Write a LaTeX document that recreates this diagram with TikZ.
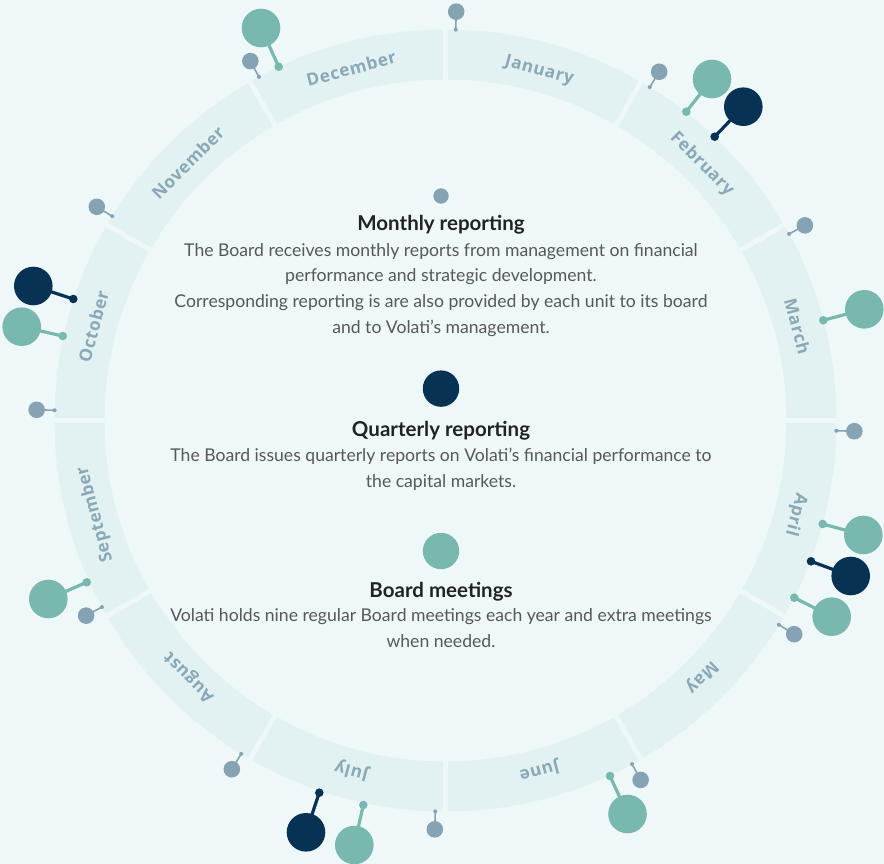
\documentclass[tikz,border=0pt]{standalone}
\usepackage{fontspec}
\setmainfont{Lato}
\newfontfamily\monthfont[LetterSpace=3.5]{Open Sans}
\usetikzlibrary{calc}

\definecolor{bgcol}{HTML}{EFF8F9}
\definecolor{ringcol}{HTML}{E2F1F2}
\definecolor{monthcol}{HTML}{8AA8B8}
\definecolor{graypin}{HTML}{86A3B4}
\definecolor{tealpin}{HTML}{78B8AE}
\definecolor{navypin}{HTML}{083254}
\definecolor{headcol}{HTML}{222222}
\definecolor{bodycol}{HTML}{575757}

% one lollipop: head circle, small foot dot on the ring, stem between them
\newcommand\bigpin[6]{%
  \node[bighead, fill=#2] (#1) at (#3,-#4) {};
  \node[bigdot, fill=#2] (#1d) at (#5,-#6) {};
  \draw[#2, line width=3.2pt] (#1.center) -- (#1d.center);
}

\begin{document}
\begin{tikzpicture}[x=1pt, y=1pt,
  monthlabel/.style={font=\monthfont\bfseries\fontsize{17.2}{17}\selectfont, text=monthcol, inner sep=0pt, anchor=base},
  grayhead/.style={circle, fill=graypin, minimum size=16.6pt, inner sep=0pt},
  graydot/.style={circle, fill=graypin, minimum size=4pt, inner sep=0pt},
  bighead/.style={circle, minimum size=38.6pt, inner sep=0pt},
  bigdot/.style={circle, minimum size=8.6pt, inner sep=0pt},
  legenddot/.style={circle, minimum size=36.4pt, inner sep=0pt},
  heading/.style={font=\bfseries\fontsize{20.5}{24}\selectfont, text=headcol, inner sep=0pt, anchor=base},
  bodytext/.style={font=\fontsize{17.6}{25.6}\selectfont, text=bodycol, inner sep=0pt, align=center, anchor=base},
]
\fill[bgcol] (0,0) rectangle (884,-864);
\useasboundingbox (0,0) rectangle (884,-864);

\coordinate (C) at (445.5,-420.5);

% ring of twelve month segments
\fill[ringcol, even odd rule] (C) circle[radius=391] (C) circle[radius=341];
\foreach \k in {0,...,11}
  \draw[bgcol, line width=5pt] ($(C)+(30*\k:335)$) -- ($(C)+(30*\k:397)$);

% month names, clockwise from the top
\foreach \m [count=\i from 0] in {January,February,March,April,May,June,July,August,September,October,November,December}
  \node[monthlabel, rotate={-15-30*\i}] (m\i) at ($(C)+({75-30*\i}:358)$) {\m};

% monthly reporting pins at the start of each month
\foreach \k in {0,...,11} {
  \node[graydot] (gd\k) at ($(C)+({88.5-30*\k}:391)$) {};
  \node[grayhead] (gh\k) at ($(C)+({88.5-30*\k}:409)$) {};
  \draw[graypin, line width=1.6pt] (gd\k.center) -- (gh\k.center);
}

% board meetings
\bigpin{t1}{tealpin}{261}{28}{278.7}{66.7}
\bigpin{t2}{tealpin}{712}{79}{686.3}{111.7}
\bigpin{t3}{tealpin}{864.3}{309.3}{823.3}{320.3}
\bigpin{t4}{tealpin}{863.3}{535}{822.7}{524}
\bigpin{t5}{tealpin}{831.7}{616.7}{794.3}{597.7}
\bigpin{t6}{tealpin}{627.5}{814}{610}{776}
\bigpin{t7}{tealpin}{354.3}{845}{363.3}{805}
\bigpin{t8}{tealpin}{48.3}{599}{86.7}{582.3}
\bigpin{t9}{tealpin}{21.7}{326.7}{62.7}{336}

% quarterly reporting
\bigpin{n1}{navypin}{743.3}{106.7}{714.7}{136.7}
\bigpin{n2}{navypin}{850.7}{576}{811}{561.3}
\bigpin{n3}{navypin}{306}{832.3}{319.3}{792.7}
\bigpin{n4}{navypin}{33.3}{286}{73.3}{299}

% legend in the middle (body nodes are placed by the baseline of their last line)
\node[circle, fill=graypin, minimum size=15.4pt, inner sep=0pt] (l1) at (441,-196) {};
\node[heading] (h1) at (441,-230) {Monthly reporting};
\node[bodytext] (b1) at (441,-333) {The Board receives monthly reports from management on financial\\performance and strategic development.\\Corresponding reporting is are also provided by each unit to its board\\and to Volati’s management.};

\node[legenddot, fill=navypin] (l2) at (441,-388.6) {};
\node[heading] (h2) at (441,-436) {Quarterly reporting};
\node[bodytext] (b2) at (441,-487.5) {The Board issues quarterly reports on Volati’s financial performance to\\the capital markets.};

\node[legenddot, fill=tealpin] (l3) at (441,-551) {};
\node[heading] (h3) at (441,-597.5) {Board meetings};
\node[bodytext] (b3) at (441,-647.5) {Volati holds nine regular Board meetings each year and extra meetings\\when needed.};
\end{tikzpicture}
\end{document}
